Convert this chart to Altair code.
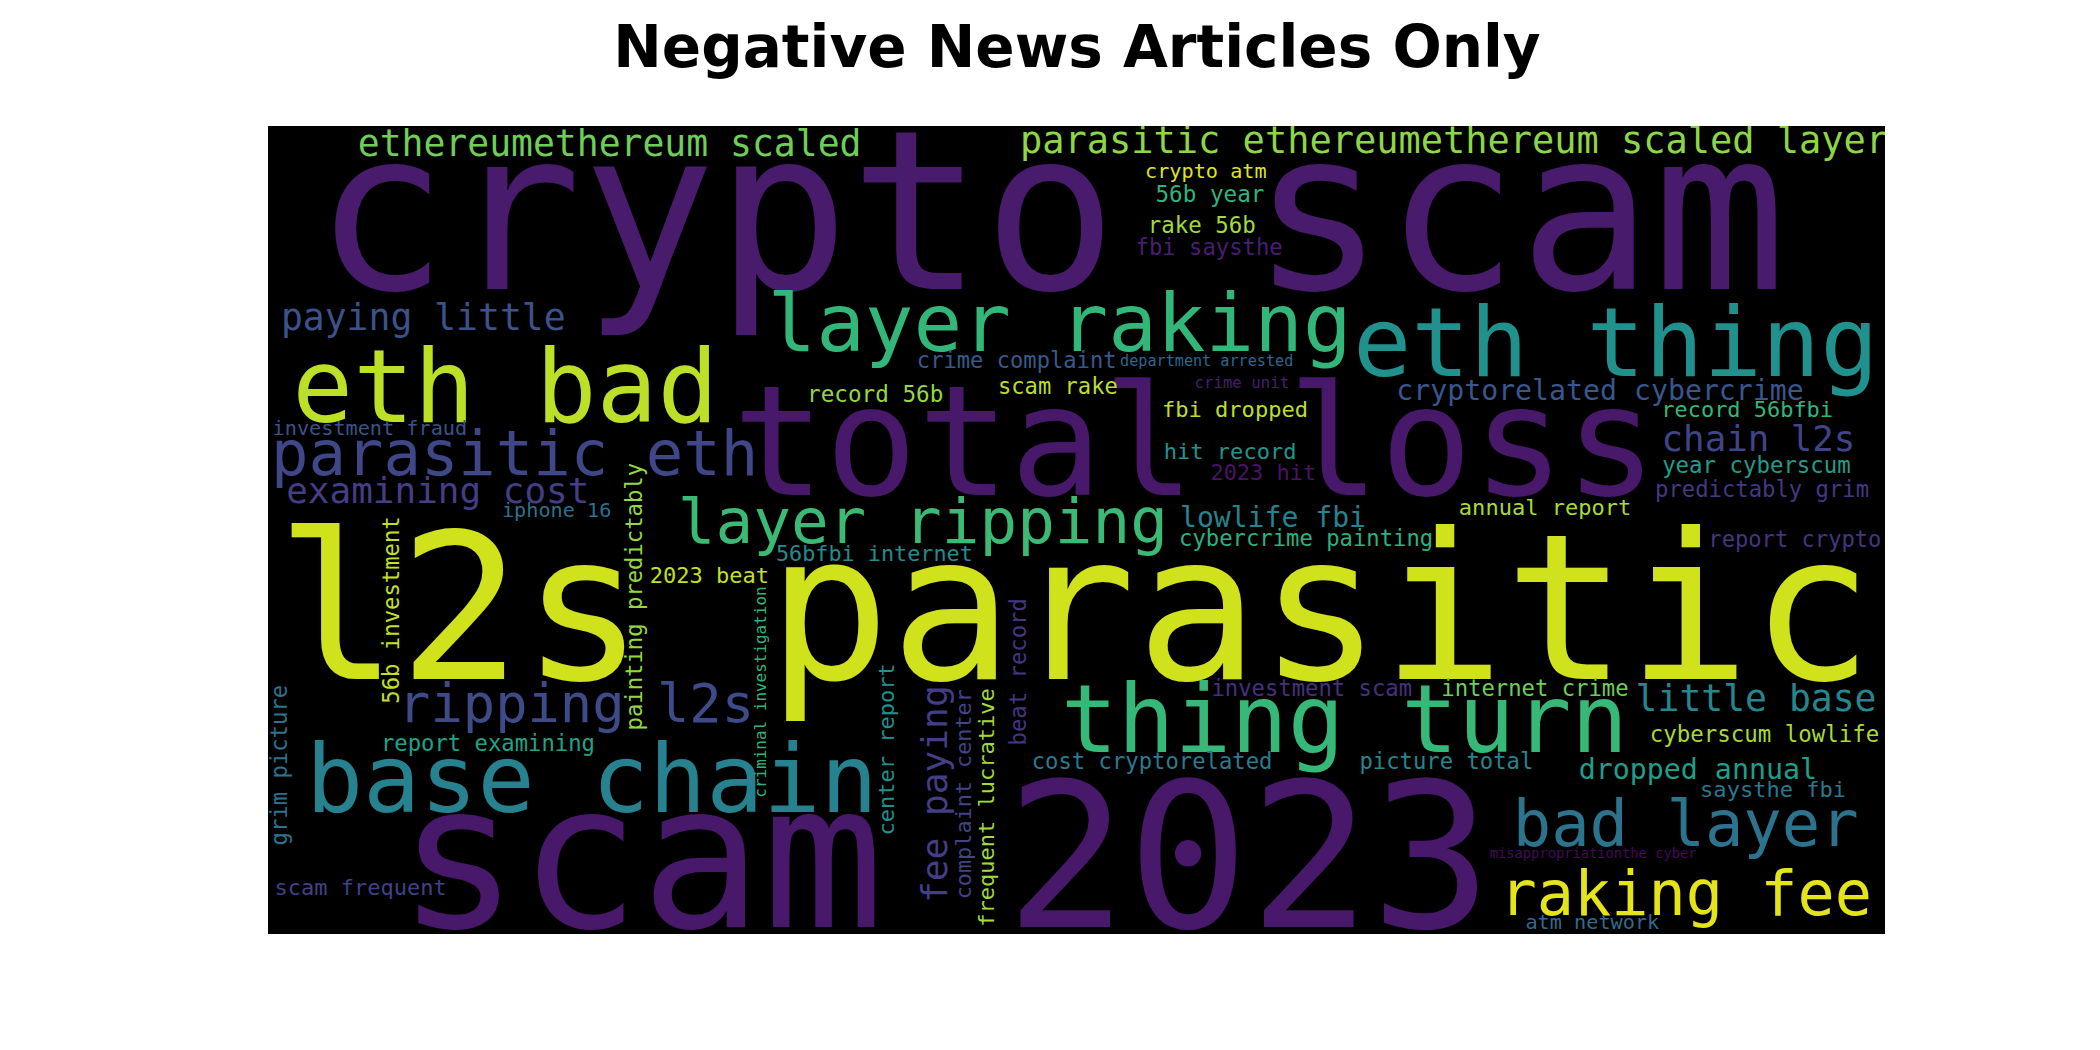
import altair as alt
import pandas as pd

title_text = ["Negative News Articles Only"]

# word cloud canvas is 400 x 200 "cloud pixels"
words = [
    "crypto scam", "total loss", "l2s parasitic", "scam 2023",
    "ethereumethereum scaled", "parasitic ethereumethereum scaled layer",
    "layer raking", "eth thing", "eth bad", "paying little", "parasitic eth",
    "examining cost", "layer ripping", "ripping l2s", "base chain", "thing turn",
    "bad layer", "raking fee", "chain l2s", "little base", "dropped annual",
    "cryptorelated cybercrime", "crypto atm", "56b year", "rake 56b", "fbi saysthe",
    "crime complaint", "department arrested", "crime unit", "record 56b", "scam rake",
    "fbi dropped", "record 56bfbi", "hit record", "2023 hit", "year cyberscum",
    "predictably grim", "annual report", "lowlife fbi", "cybercrime painting",
    "report crypto", "investment fraud", "iphone 16", "56bfbi internet", "2023 beat",
    "investment scam", "internet crime", "cyberscum lowlife", "cost cryptorelated",
    "picture total", "saysthe fbi", "misappropriationthe cyber", "atm network",
    "report examining", "scam frequent",
    # vertical words
    "56b investment", "painting predictably", "criminal investigation", "grim picture",
    "center report", "fee paying", "complaint center", "frequent lucrative", "beat record",
]
pos_x = [
    193.5, 229.3, 199.5, 167.4,
    84.5, 293.4,
    195.8, 333.4, 58.7, 38.4, 61.0,
    42.0, 162.0, 76.2, 80.1, 266.3,
    350.7, 350.7, 368.7, 368.1, 353.7,
    329.5, 232.0, 233.0, 231.0, 232.8,
    185.2, 232.2, 240.9, 150.2, 195.4,
    239.2, 365.9, 238.0, 246.2, 368.2,
    369.6, 315.9, 248.6, 256.8,
    377.7, 25.2, 71.4, 150.0, 109.2,
    258.2, 313.4, 370.2, 218.7,
    291.5, 372.3, 327.8, 327.6,
    54.4, 22.9,
    32.3, 92.6, 123.2, 4.7,
    154.8, 167.9, 173.9, 179.7, 187.4,
]
pos_y = [
    40.3, 91.3, 137.0, 198.3,
    7.4, 6.8,
    55.7, 62.0, 73.2, 50.4, 86.3,
    93.3, 103.1, 147.6, 169.9, 155.0,
    178.2, 195.4, 80.4, 144.9, 161.7,
    67.9, 12.9, 18.8, 26.5, 31.9,
    59.9, 59.4, 64.9, 68.2, 66.4,
    72.1, 72.1, 82.5, 87.6, 85.9,
    91.9, 96.4, 99.2, 104.0,
    104.2, 76.4, 96.9, 107.7, 113.2,
    141.1, 141.1, 152.5, 159.2,
    159.2, 166.1, 181.2, 198.8,
    154.7, 190.4,
    119.8, 116.5, 140.1, 158.2,
    154.3, 165.4, 165.4, 168.7, 135.1,
]
font_size = [
    55.0, 38.0, 50.5, 50.0,
    9.0, 9.15,
    20.0, 24.0, 25.0, 9.0, 15.4,
    8.9, 15.5, 13.3, 23.5, 23.3,
    15.8, 15.3, 8.85, 9.0, 7.0,
    6.98, 5.0, 5.6, 5.55, 5.5,
    5.47, 3.75, 3.9, 5.6, 5.47,
    5.46, 5.43, 5.46, 5.43, 5.54,
    5.5, 5.45, 6.95, 5.5,
    5.47, 5.0, 5.0, 5.4, 5.45,
    5.5, 5.5, 5.55, 5.5,
    5.5, 5.45, 3.4, 5.0,
    5.5, 5.45,
    5.5, 5.5, 3.95, 5.5,
    5.45, 8.95, 5.4, 5.45, 5.5,
]
tone = [
    0.07, 0.06, 0.93, 0.06,
    0.78, 0.83,
    0.66, 0.50, 0.90, 0.25, 0.21,
    0.18, 0.68, 0.22, 0.44, 0.67,
    0.38, 0.96, 0.20, 0.46, 0.56,
    0.27, 0.95, 0.65, 0.86, 0.08,
    0.28, 0.33, 0.08, 0.84, 0.90,
    0.90, 0.66, 0.52, 0.05, 0.56,
    0.16, 0.87, 0.44, 0.64,
    0.15, 0.25, 0.37, 0.48, 0.91,
    0.14, 0.78, 0.87, 0.41,
    0.46, 0.40, 0.02, 0.34,
    0.58, 0.19,
    0.91, 0.84, 0.65, 0.38,
    0.50, 0.18, 0.20, 0.86, 0.15,
]
vertical = [False] * 55 + [True] * 9

df = pd.DataFrame({
    "word": words, "px": pos_x, "py": pos_y,
    "fs": font_size, "tone": tone, "vertical": vertical,
})
title_df = pd.DataFrame({"t": title_text})

x_enc = alt.X("px:Q", scale=alt.Scale(domain=[0, 400], nice=False, zero=False), axis=None)
y_enc = alt.Y("py:Q", scale=alt.Scale(domain=[0, 200], nice=False, zero=False, reverse=True), axis=None)
size_enc = alt.Size("fs:Q", scale=alt.Scale(type="linear", domain=[0, 100], range=[0, 404.25]), legend=None)
color_enc = alt.Color("tone:Q", scale=alt.Scale(scheme="viridis", domain=[0, 1]), legend=None)

base = alt.Chart(df)

horiz = base.transform_filter("!datum.vertical").mark_text(
    font="DejaVu Sans Mono", align="center", baseline="alphabetic", clip=True
).encode(x=x_enc, y=y_enc, size=size_enc, color=color_enc, text="word:N")

vert = base.transform_filter("datum.vertical").mark_text(
    font="DejaVu Sans Mono", align="center", baseline="alphabetic", angle=270, clip=True
).encode(x=x_enc, y=y_enc, size=size_enc, color=color_enc, text="word:N")

title_layer = alt.Chart(title_df).mark_text(
    font="DejaVu Sans", fontWeight="bold", fontSize=58, color="black",
    align="center", baseline="alphabetic",
).encode(text="t:N", x=alt.value(809), y=alt.value(-58.7))

chart = alt.layer(horiz, vert, title_layer).properties(
    width=1617,
    height=808,
    padding={"left": 260, "top": 118, "right": 150, "bottom": 80},
    autosize=alt.AutoSizeParams(type="none"),
).configure_view(fill="black", strokeWidth=0)

chart.save("out.html", embed_options={"renderer": "svg", "actions": False})
